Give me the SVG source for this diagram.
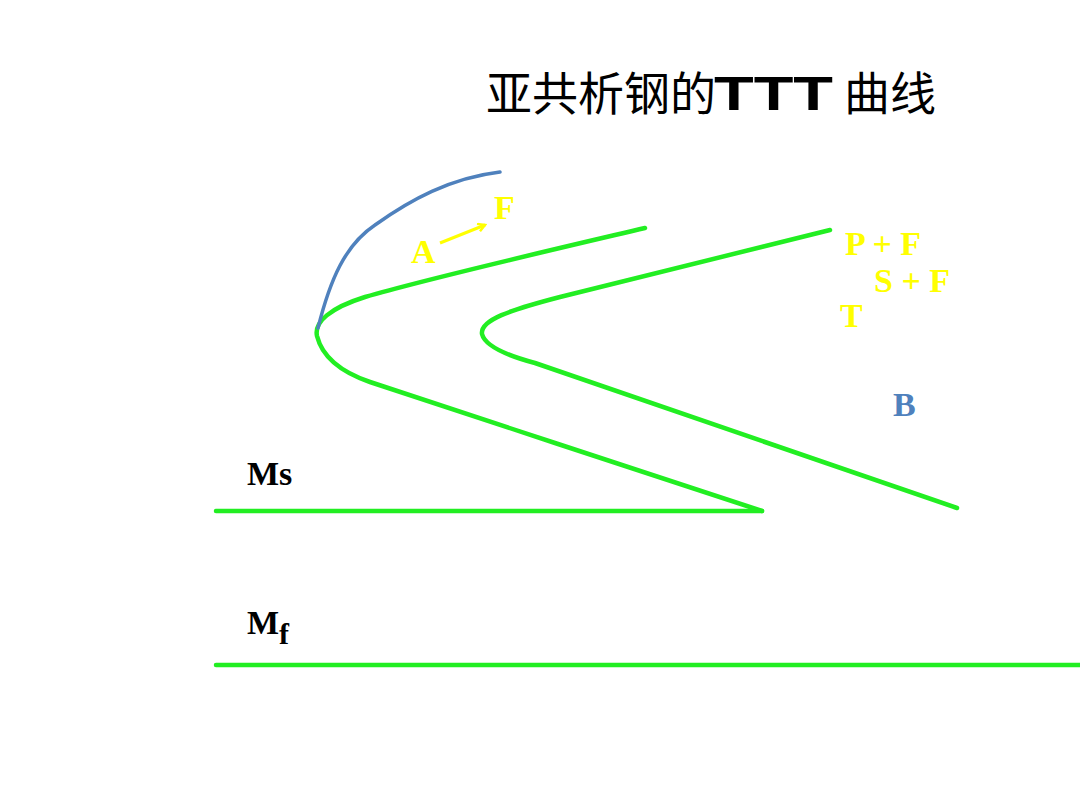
<svg xmlns="http://www.w3.org/2000/svg" width="1080" height="810" viewBox="0 0 1080 810">
<defs>
<style>
.g{fill:none;stroke:#22EE22;stroke-width:4.5;stroke-linecap:round;stroke-linejoin:round}
.b{fill:none;stroke:#4F81BD;stroke-width:3.5;stroke-linecap:round}
.y{fill:#FFFF00;font-family:"Liberation Serif","Times New Roman",serif;font-weight:bold;font-size:34px}
.k{fill:#000;font-family:"Liberation Serif","Times New Roman",serif;font-weight:bold;font-size:34px}
.bl{fill:#4F81BD;font-family:"Liberation Serif","Times New Roman",serif;font-weight:bold;font-size:34px}
</style>
<marker id="ah" markerWidth="10" markerHeight="10" refX="8" refY="5" orient="auto" markerUnits="userSpaceOnUse">
<path d="M1,1 L8,5 L1,9" fill="none" stroke="#FFFF00" stroke-width="2.5"/>
</marker>
</defs>
<rect width="1080" height="810" fill="#fff"/>
<g id="title">
<text y="110" font-size="46" font-family="'Noto Sans CJK SC','Liberation Sans',sans-serif" fill="#000"><tspan x="486">亚共析钢的</tspan><tspan x="714" font-family="'Liberation Sans',Arial,sans-serif" font-weight="bold" font-size="48" textLength="119" lengthAdjust="spacingAndGlyphs">TTT</tspan><tspan x="844">曲线</tspan></text>
</g>
<g id="connectors">
<path id="curve-start" class="g" d="M645,228 C560,248 430,278 365,297 C330,308 314,322 317,336 C321,352 335,370 370,382 C480,418 660,478 762,511"/>
<path id="curve-end" class="g" d="M830,230 L560,297 C510,310 480,320 482,334 C485,346 505,355 535,363 L957,508"/>
<path id="ms-line" class="g" d="M216,511 L762,511"/>
<path id="mf-line" class="g" d="M216,665 L1080,665"/>
<path id="ferrite-curve" class="b" d="M318,328 C330,280 345,245 375,225 C410,200 450,178 500,172"/>
<path id="a-to-f" d="M440,243 L485,225" fill="none" stroke="#FFFF00" stroke-width="3" marker-end="url(#ah)"/>
</g>
<g id="labels">
<text class="y" x="411" y="263">A</text>
<text class="y" x="494" y="219">F</text>
<text class="y" x="845" y="255">P + F</text>
<text class="y" x="874" y="292">S + F</text>
<text class="y" x="840" y="327">T</text>
<text class="bl" x="893" y="416">B</text>
<text class="k" x="247" y="485">Ms</text>
<text class="k" x="247" y="634">M<tspan font-size="30" dy="10">f</tspan></text>
</g>
</svg>
